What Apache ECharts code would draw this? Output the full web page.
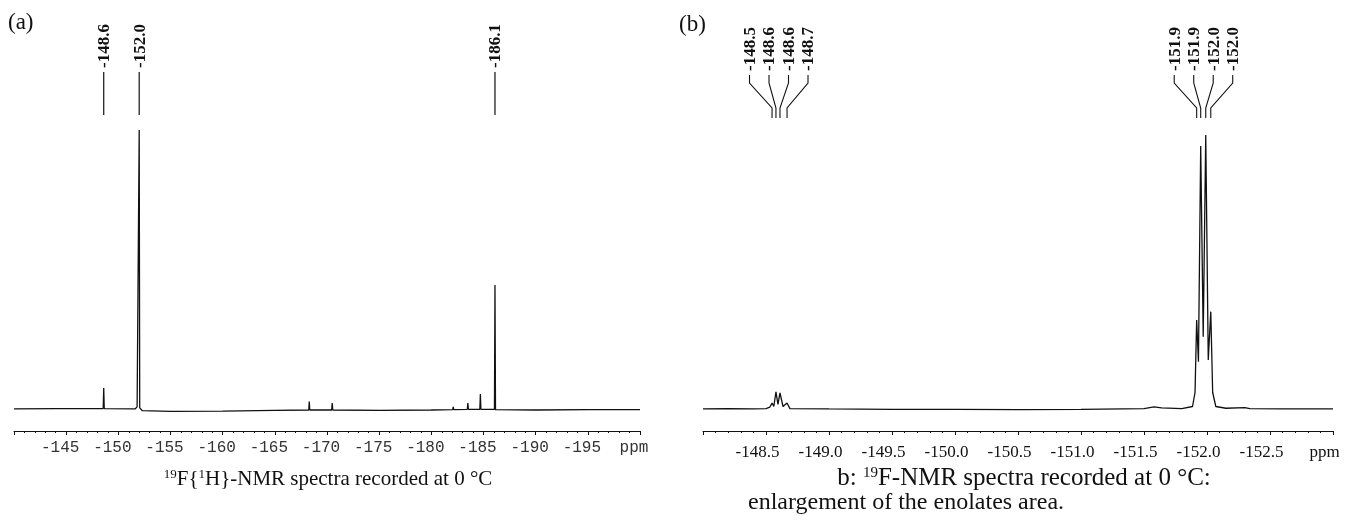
<!DOCTYPE html>
<html>

<head>
    <meta charset="utf-8" />
    <title>19F NMR</title>
    <script src="https://cdn.jsdelivr.net/npm/echarts@6/dist/echarts.min.js"></script>
    <style>
        body { margin: 0; background: #fff; }
        #main { width: 1346px; height: 522px; }
    </style>
</head>

<body>
    <div id="main"></div>
    <script type="text/javascript">
        // (a) 19F{1H} spectrum: [ppm, intensity], baseline = 0
        var leftSpectrum = [
            [-140.0, 0.3], [-144.0, 0.4], [-148.55, 0.4], [-148.6, 6.3], [-148.65, 0.4],
            [-151.6, 0.3], [-151.8, 0.9], [-151.95, 0.6], [-152.0, 80], [-152.05, 0.6],
            [-152.3, -0.2], [-155.0, -0.4], [-160.0, -0.3], [-165.0, -0.1],
            [-168.25, 0.0], [-168.3, 2.4], [-168.35, 0.0], [-170.45, 0.0], [-170.5, 2.0], [-170.55, 0.0],
            [-175.0, -0.1], [-180.0, 0.0], [-182.05, 0.1], [-182.1, 0.9], [-182.15, 0.1],
            [-183.45, 0.2], [-183.5, 2.0], [-183.55, 0.2], [-184.65, 0.2], [-184.7, 4.6], [-184.75, 0.2],
            [-186.05, 0.2], [-186.1, 35.7], [-186.15, 0.1], [-190.0, 0.0], [-195.0, 0.1], [-200.0, 0.1]
        ];
        var leftPeakPpm = [-148.6, -152.0, -186.1];
        var leftPeakLabels = ['-148.6', '-152.0', '-186.1'];

        // (b) 19F spectrum, enolate region
        var rightSpectrum = [
            [-148.0, 0.3], [-148.2, 0.4], [-148.4, 0.3], [-148.5, 0.4], [-148.53, 0.8],
            [-148.548, 2.0], [-148.562, 1.0], [-148.579, 5.2], [-148.595, 1.6], [-148.611, 4.9],
            [-148.635, 1.0], [-148.667, 2.0], [-148.69, 0.4], [-149.0, 0.3], [-149.5, 0.2],
            [-150.0, 0.2], [-150.5, 0.1], [-151.0, 0.2], [-151.5, 0.4], [-151.58, 0.9],
            [-151.64, 0.6], [-151.8, 0.4], [-151.885, 1.0], [-151.905, 5.0], [-151.918, 25.7],
            [-151.932, 13.8], [-151.95, 75.4], [-151.97, 20.9], [-151.99, 78.6], [-152.01, 14.3],
            [-152.03, 28.1], [-152.045, 5.0], [-152.07, 1.0], [-152.15, 0.5], [-152.3, 0.7],
            [-152.34, 0.4], [-152.6, 0.3], [-153.0, 0.3]
        ];
        var rightPeakPpm = [-148.548, -148.579, -148.611, -148.667, -151.918, -151.95, -151.99, -152.03];
        var rightPeakLabels = ['-148.5', '-148.6', '-148.6', '-148.7', '-151.9', '-151.9', '-152.0', '-152.0'];
        var rightPeakGroup = [0, 0, 0, 0, 1, 1, 1, 1];

        var myChart = echarts.init(document.getElementById('main'));

        var serif = '"Liberation Serif", "Times New Roman", serif';
        var labelFont = 'bold 17px ' + serif;

        // straight leader lines for panel (a)
        function renderLeftPeaks(params, api) {
            var x = api.coord([api.value(0), 0])[0];
            var i = api.value(1);
            return {
                type: 'group',
                children: [
                    { type: 'line', shape: { x1: x, y1: 72, x2: x, y2: 115 }, style: { stroke: '#111', lineWidth: 1.2 } },
                    {
                        type: 'text', x: x + 1, y: 68, rotation: Math.PI / 2,
                        style: { text: leftPeakLabels[i], font: labelFont, fill: '#111', align: 'left', verticalAlign: 'middle' }
                    }
                ]
            };
        }

        // bent leader lines for panel (b): labels spread above each multiplet
        function renderRightPeaks(params, api) {
            var i = api.value(1);
            var x = api.coord([api.value(0), 0])[0];
            var g = rightPeakGroup[i];
            var members = [];
            for (var k = 0; k < rightPeakPpm.length; k++) {
                if (rightPeakGroup[k] === g) members.push(k);
            }
            var sum = 0;
            members.forEach(function (k) { sum += api.coord([rightPeakPpm[k], 0])[0]; });
            var center = sum / members.length;
            var slot = members.indexOf(i) - (members.length - 1) / 2;
            var lx = center + slot * 19.5;
            return {
                type: 'group',
                children: [
                    {
                        type: 'polyline',
                        shape: { points: [[lx, 75], [lx, 83], [x, 108], [x, 118]] },
                        style: { stroke: '#111', lineWidth: 1.1, fill: null }
                    },
                    {
                        type: 'text', x: lx + 1, y: 71, rotation: Math.PI / 2,
                        style: { text: rightPeakLabels[i], font: labelFont, fill: '#111', align: 'left', verticalAlign: 'middle' }
                    }
                ]
            };
        }

        function near(a, b) { return Math.abs(a - b) < 1e-6; }

        var axisCommon = {
            type: 'value',
            inverse: true,
            axisLine: { onZero: false, lineStyle: { color: '#111', width: 1 } },
            axisTick: { show: true, length: 4, lineStyle: { color: '#111' } },
            minorTick: { show: true, splitNumber: 5, length: 2, lineStyle: { color: '#111' } },
            splitLine: { show: false }
        };

        var option = {
            animation: false,
            grid: [
                { left: 14, right: 706, top: 60, bottom: 91 },
                { left: 703, right: 13, top: 60, bottom: 91 }
            ],
            xAxis: [
                Object.assign({}, axisCommon, {
                    gridIndex: 0, min: -200, max: -140, interval: 5,
                    axisLabel: {
                        margin: 9, padding: [0, 12, 0, 0],
                        fontFamily: '"Liberation Mono", "Courier New", monospace', fontSize: 16, color: '#333',
                        showMinLabel: true, showMaxLabel: true,
                        formatter: function (v) {
                            if (near(v, -140)) return '';
                            if (near(v, -200)) return 'ppm';
                            return String(v);
                        }
                    }
                }),
                Object.assign({}, axisCommon, {
                    gridIndex: 1, min: -153, max: -148, interval: 0.5,
                    axisLabel: {
                        margin: 13, padding: [0, 17, 0, 0],
                        fontFamily: serif, fontSize: 17, color: '#111',
                        showMinLabel: true, showMaxLabel: true,
                        formatter: function (v) {
                            if (near(v, -148)) return '';
                            if (near(v, -153)) return 'ppm';
                            return v.toFixed(1);
                        }
                    }
                })
            ],
            yAxis: [
                { gridIndex: 0, type: 'value', min: -6, max: 100, show: false },
                { gridIndex: 1, type: 'value', min: -6, max: 100, show: false }
            ],
            series: [
                {
                    type: 'line', xAxisIndex: 0, yAxisIndex: 0, data: leftSpectrum,
                    showSymbol: false, lineStyle: { color: '#111', width: 1.3 }
                },
                {
                    type: 'line', xAxisIndex: 1, yAxisIndex: 1, data: rightSpectrum,
                    showSymbol: false, lineStyle: { color: '#111', width: 1.3 }
                },
                {
                    type: 'custom', xAxisIndex: 0, yAxisIndex: 0, clip: false,
                    data: leftPeakPpm.map(function (p, i) { return [p, i]; }),
                    renderItem: renderLeftPeaks
                },
                {
                    type: 'custom', xAxisIndex: 1, yAxisIndex: 1, clip: false,
                    data: rightPeakPpm.map(function (p, i) { return [p, i]; }),
                    renderItem: renderRightPeaks
                }
            ],
            graphic: [
                { type: 'text', left: 8, top: 11, style: { text: '(a)', font: '23px ' + serif, fill: '#111' } },
                { type: 'text', left: 679, top: 13, style: { text: '(b)', font: '23px ' + serif, fill: '#111' } },
                {
                    type: 'text', x: 328, y: 479,
                    style: {
                        text: '{sup|19}F{{sup|1}H}-NMR spectra recorded at 0 °C',
                        font: '21px ' + serif, fill: '#111', align: 'center', verticalAlign: 'middle',
                        rich: { sup: { fontSize: 13, fontFamily: serif, padding: [0, 0, 8, 0] } }
                    }
                },
                {
                    type: 'text', x: 1024, y: 478,
                    style: {
                        text: 'b: {sup|19}F-NMR spectra recorded at 0 °C:',
                        font: '25px ' + serif, fill: '#111', align: 'center', verticalAlign: 'middle',
                        rich: { sup: { fontSize: 15, fontFamily: serif, padding: [0, 0, 9, 0] } }
                    }
                },
                {
                    type: 'text', x: 748, y: 503,
                    style: {
                        text: 'enlargement of the enolates area.',
                        font: '24px ' + serif, fill: '#111', align: 'left', verticalAlign: 'middle'
                    }
                }
            ]
        };

        myChart.setOption(option);
    </script>
</body>

</html>
